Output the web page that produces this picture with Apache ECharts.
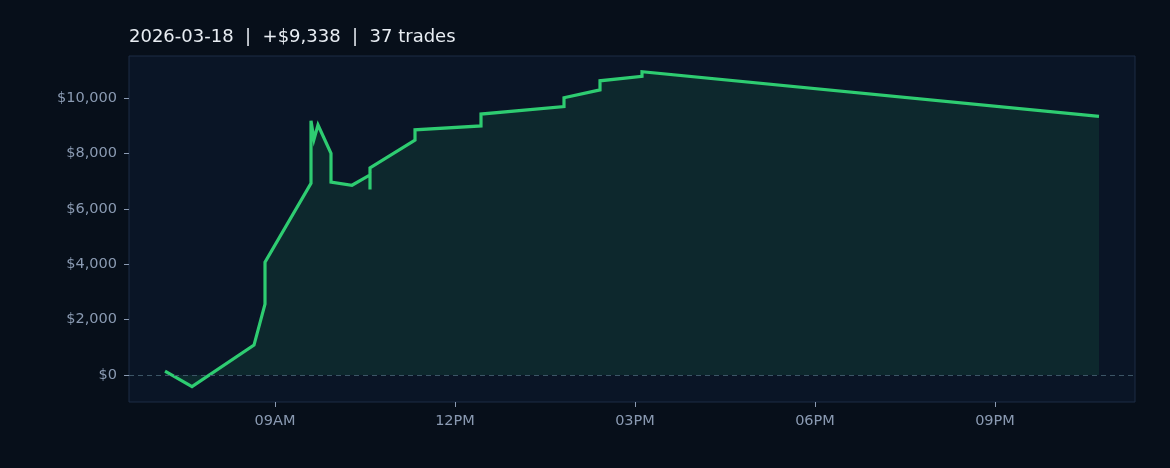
<!DOCTYPE html>
<html>
<head>
<meta charset="utf-8">
<script src="https://cdn.jsdelivr.net/npm/echarts@6/dist/echarts.min.js"></script>
<style>
  html, body { margin: 0; padding: 0; background: #070f1a; }
  #chart { width: 1170px; height: 468px; }
</style>
</head>
<body>
<div id="chart"></div>
<script>
// 当日累计盈亏数据
const day = '2026-03-18';
const times = [
    '07:10', '07:37', '08:39', '08:50', '08:50', '09:36', '09:36', '09:39', '09:43',
    '09:56', '09:56', '10:17', '10:35', '10:35', '10:35', '11:20', '11:20',
    '12:26', '12:26', '13:49', '13:49', '14:25', '14:25', '15:07', '15:07', '22:44'
];
const pnl = [
    140, -420, 1080, 2560, 4070, 6920, 9180, 8510, 9025,
    8000, 6960, 6850, 7220, 6700, 7480, 8480, 8850,
    8990, 9420, 9690, 10010, 10290, 10620, 10780, 10950, 9338
];
const yTicks = [0, 2000, 4000, 6000, 8000, 10000];
const xTicks = ['09:00', '12:00', '15:00', '18:00', '21:00'];
const xRange = ['06:34', '23:20'];
const yRange = [-975, 11515];
const title = '2026-03-18  |  +$9,338  |  37 trades';

// 时间字符串 -> 时间戳
const ts = t => new Date(day + 'T' + t + ':00').getTime();

const chart = echarts.init(document.getElementById('chart'));

function fmtHour(v) {
    const d = new Date(v);
    let h = d.getHours();
    const ap = h < 12 ? 'AM' : 'PM';
    h = h % 12;
    if (h === 0) h = 12;
    return String(h).padStart(2, '0') + ap;
}

const font = "'DejaVu Sans', sans-serif";

const option = {
    backgroundColor: '#070f1a',
    animation: false,
    title: {
        text: title,
        left: 124,
        top: 23,
        textStyle: { color: '#e8edf3', fontSize: 18, fontWeight: 'normal', fontFamily: font }
    },
    grid: {
        left: 129, right: 35, top: 56, bottom: 66,
        show: true,
        backgroundColor: '#0a1526',
        borderColor: '#1d2c44',
        borderWidth: 1
    },
    xAxis: {
        type: 'value',
        min: ts(xRange[0]),
        max: ts(xRange[1]),
        splitLine: { show: false },
        axisLine: { show: false, onZero: false },
        axisTick: {
            show: true, length: 5,
            customValues: xTicks.map(ts),
            lineStyle: { color: '#8a9ab2' }
        },
        axisLabel: {
            customValues: xTicks.map(ts),
            formatter: v => fmtHour(v),
            color: '#8a9ab2', fontSize: 14.5, fontFamily: font, margin: 12
        }
    },
    yAxis: {
        type: 'value',
        min: yRange[0],
        max: yRange[1],
        splitLine: { show: false },
        axisLine: { show: false, onZero: false },
        axisTick: {
            show: true, length: 5,
            customValues: yTicks,
            lineStyle: { color: '#8a9ab2' }
        },
        axisLabel: {
            customValues: yTicks,
            formatter: v => '$' + v.toLocaleString('en-US'),
            color: '#8a9ab2', fontSize: 14.5, fontFamily: font, margin: 12
        }
    },
    series: [{
        type: 'line',
        data: times.map((t, i) => [ts(t), pnl[i]]),
        showSymbol: false,
        lineStyle: { color: '#2ecc71', width: 3.2, join: 'miter' },
        areaStyle: { color: 'rgba(46,204,113,0.15)', origin: 0 },
        markLine: {
            silent: true,
            symbol: 'none',
            label: { show: false },
            lineStyle: { color: '#3c5566', type: [5, 4], width: 1 },
            data: [{ yAxis: 0 }]
        }
    }]
};

chart.setOption(option);
</script>
</body>
</html>
